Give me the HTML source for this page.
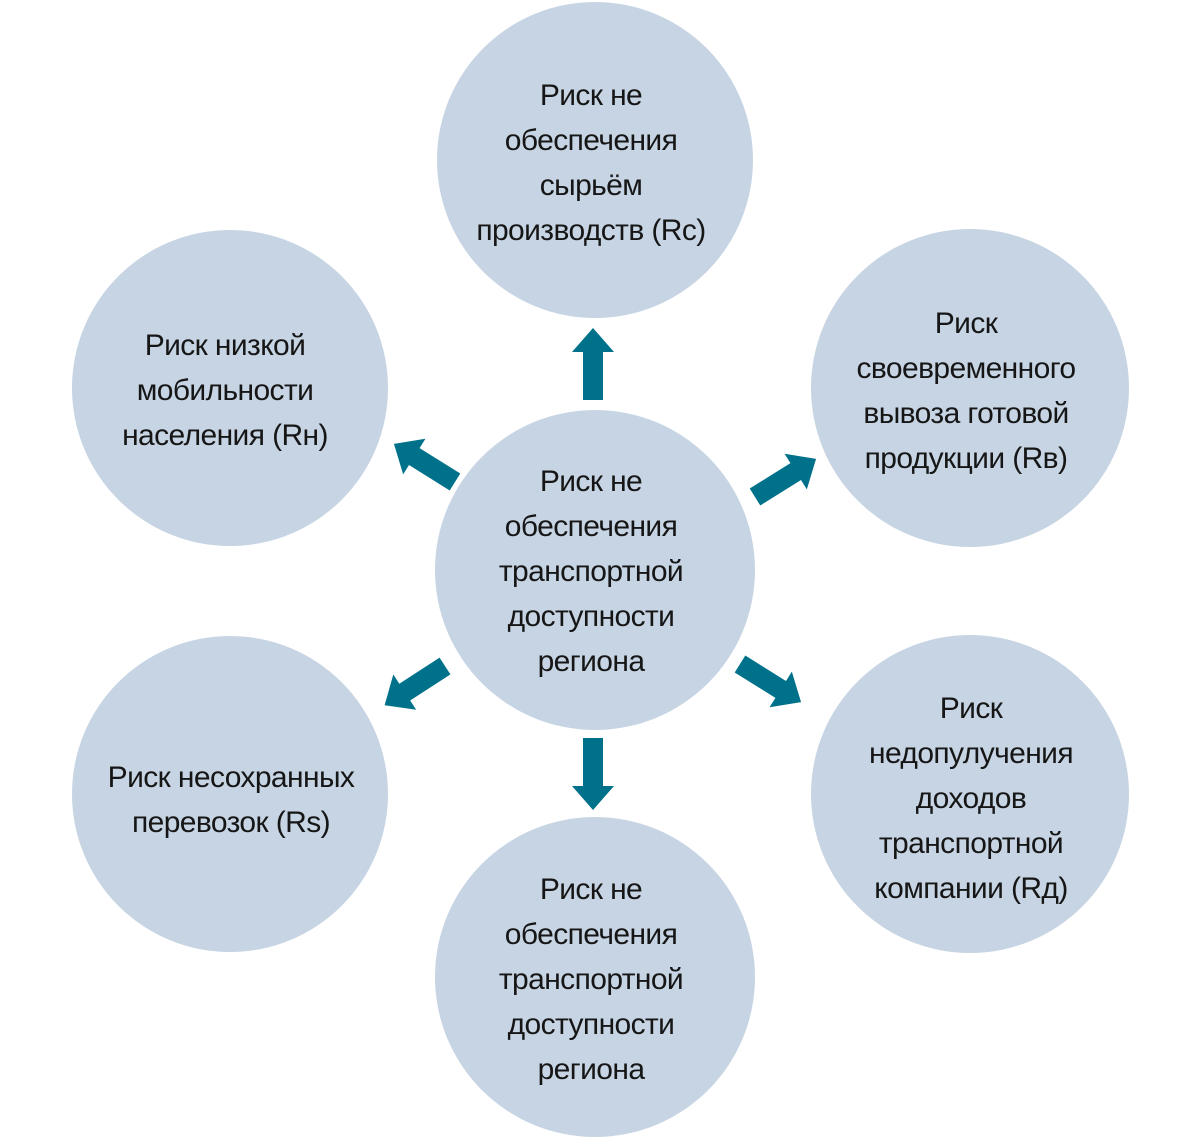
<!DOCTYPE html>
<html><head><meta charset="utf-8"><style>
html,body{margin:0;padding:0;background:#fff}
svg text{font-family:"Liberation Sans Narrow","Liberation Sans",sans-serif;font-size:30px;letter-spacing:-0.6px;fill:#161616;text-anchor:middle}
</style></head><body>
<svg width="1200" height="1140" viewBox="0 0 1200 1140" xmlns="http://www.w3.org/2000/svg">
<defs>
<path id="ar" d="M0,-10 L48,-10 L48,-21 L72,0 L48,21 L48,10 L0,10 Z" fill="#00718a"/>
</defs>
<g fill="#c6d4e3">
<circle cx="595" cy="160" r="158"/>
<circle cx="230" cy="388" r="158"/>
<circle cx="970" cy="388" r="159"/>
<circle cx="595" cy="570" r="160"/>
<circle cx="230" cy="794" r="158"/>
<circle cx="970" cy="794" r="159"/>
<circle cx="595" cy="977" r="160"/>
</g>
<use href="#ar" transform="translate(593,400) rotate(-90)"/>
<use href="#ar" transform="translate(593,738) rotate(90)"/>
<use href="#ar" transform="translate(455,482) rotate(-148)"/>
<use href="#ar" transform="translate(755,497) rotate(-32)"/>
<use href="#ar" transform="translate(445,666) rotate(147)"/>
<use href="#ar" transform="translate(740,664) rotate(32)"/>
<text x="591" y="105">Риск не</text>
<text x="591" y="150">обеспечения</text>
<text x="591" y="195">сырьём</text>
<text x="591" y="240">производств (Rc)</text>
<text x="225" y="355">Риск низкой</text>
<text x="225" y="400">мобильности</text>
<text x="225" y="445">населения (Rн)</text>
<text x="966" y="333">Риск</text>
<text x="966" y="378">своевременного</text>
<text x="966" y="423">вывоза готовой</text>
<text x="966" y="468">продукции (Rв)</text>
<text x="591" y="491">Риск не</text>
<text x="591" y="536">обеспечения</text>
<text x="591" y="581">транспортной</text>
<text x="591" y="626">доступности</text>
<text x="591" y="671">региона</text>
<text x="231" y="787">Риск несохранных</text>
<text x="231" y="832">перевозок (Rs)</text>
<text x="971" y="718">Риск</text>
<text x="971" y="763">недопулучения</text>
<text x="971" y="808">доходов</text>
<text x="971" y="853">транспортной</text>
<text x="971" y="898">компании (Rд)</text>
<text x="591" y="899">Риск не</text>
<text x="591" y="944">обеспечения</text>
<text x="591" y="989">транспортной</text>
<text x="591" y="1034">доступности</text>
<text x="591" y="1079">региона</text>
</svg>
</body></html>
